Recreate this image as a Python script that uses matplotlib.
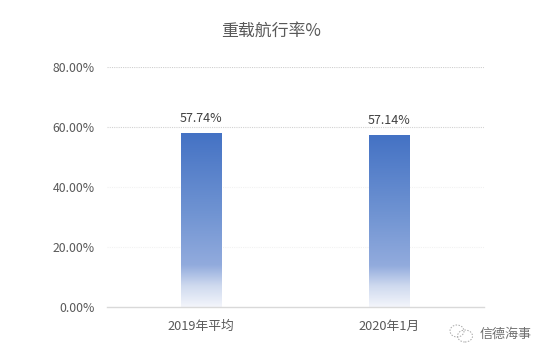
import numpy as np
import matplotlib
matplotlib.use("Agg")
import matplotlib.pyplot as plt
from matplotlib.colors import LinearSegmentedColormap
from matplotlib.patches import Ellipse

plt.rcParams['font.family'] = ['Noto Sans CJK SC', 'DejaVu Sans']

categories = ["2019年平均", "2020年1月"]
values = [57.74, 57.14]
value_labels = ["57.74%", "57.14%"]
yticks = [0, 20, 40, 60, 80]
ytick_labels = ["0.00%", "20.00%", "40.00%", "60.00%", "80.00%"]
title = "重载航行率%"
watermark = "信德海事"

W, H = 548, 358
fig = plt.figure(figsize=(W / 100, H / 100), dpi=100, facecolor="white")
ax = fig.add_axes([107 / W, 1 - 307 / H, 376.5 / W, 240 / H])

cmap = LinearSegmentedColormap.from_list(
    "g", [(0, "#F3F5FB"), (0.12, "#CFDAEF"), (0.24, "#92ABDD"), (0.55, "#6F93D2"), (1, "#4472C4")])
grad = np.linspace(0, 1, 256).reshape(-1, 1)

bars = ax.bar(range(len(values)), values, width=0.216, color="none", linewidth=0, zorder=3)
for b in bars:
    ax.imshow(grad, cmap=cmap, origin="lower", aspect="auto", zorder=3,
              extent=[b.get_x(), b.get_x() + b.get_width(), 0, b.get_height()])
ax.set_xlim(-0.5, 1.5)
ax.set_ylim(0, 80)

for y, c in [(80, "#CFCFCF"), (60, "#D2D2D2"), (40, "#F2F2F2"), (20, "#F2F2F2")]:
    ax.axhline(y, color=c, lw=0.8, ls=(0, (1, 1)), zorder=1)

for s in ["top", "right", "left"]:
    ax.spines[s].set_visible(False)
ax.spines["bottom"].set_color("#D9D9D9")
ax.spines["bottom"].set_linewidth(1.0)
ax.spines["bottom"].set_zorder(4)

ax.set_xticks(range(len(categories)), categories)
ax.set_yticks(yticks, ytick_labels)
ax.tick_params(axis="x", length=0, labelsize=9.2, labelcolor="#595959", pad=9.5)
ax.tick_params(axis="y", length=0, labelsize=8.8, labelcolor="#595959", pad=9)

for b, t in zip(bars, value_labels):
    ax.annotate(t, (b.get_x() + b.get_width() / 2, b.get_height()), xytext=(0, 6),
                textcoords="offset points", ha="center", va="bottom",
                fontsize=9, color="#404040")

fig.text(271.5 / W, 1 - 30.5 / H, title, ha="center", va="center", fontsize=12.2, color="#595959")

# Watermark
fig.text(506 / W, 1 - 334 / H, watermark, ha="center", va="center", fontsize=9.4, color="#6E6E6E")
for cx, cy, w, h in [(457, 331, 14, 12), (465, 336, 15, 12)]:
    fig.add_artist(Ellipse((cx / W, 1 - cy / H), w / W, h / H, transform=fig.transFigure,
                           fill=False, ec="#A8A8A8", lw=0.7, ls=(0, (1.5, 1.5))))

fig.savefig("out.png", dpi=100, facecolor="white")
